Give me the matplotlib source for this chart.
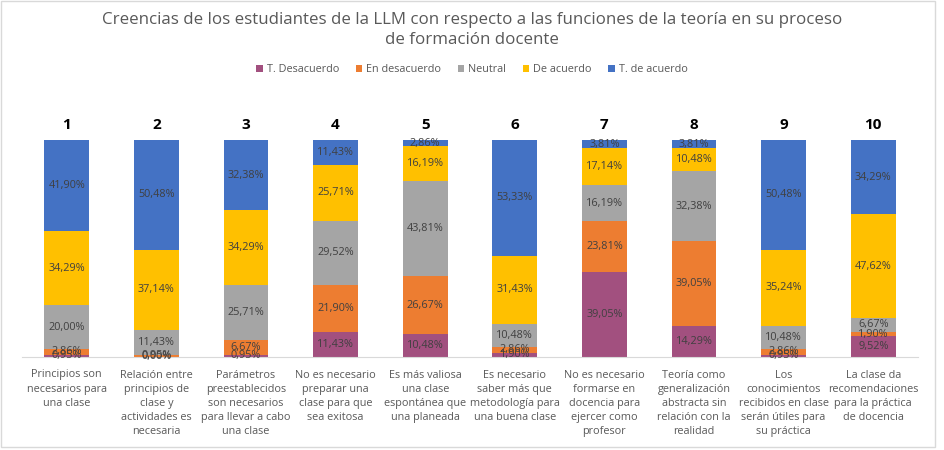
import matplotlib
matplotlib.use("Agg")
import matplotlib.pyplot as plt
from matplotlib.patches import Rectangle

plt.rcParams['font.family'] = ['Open Sans', 'DejaVu Sans']

# data (percent of students)
numbers = ['1', '2', '3', '4', '5', '6', '7', '8', '9', '10']
statements = [
    "Principios son\nnecesarios para\nuna clase",
    "Relación entre\nprincipios de\nclase y\nactividades es\nnecesaria",
    "Parámetros\npreestablecidos\nson necesarios\npara llevar a cabo\nuna clase",
    "No es necesario\npreparar una\nclase para que\nsea exitosa",
    "Es más valiosa\nuna clase\nespontánea que\nuna planeada",
    "Es necesario\nsaber más que\nmetodología para\nuna buena clase",
    "No es necesario\nformarse en\ndocencia para\nejercer como\nprofesor",
    "Teoría como\ngeneralización\nabstracta sin\nrelación con la\nrealidad",
    "Los\nconocimientos\nrecibidos en clase\nserán útiles para\nsu práctica",
    "La clase da\nrecomendaciones\npara la práctica\nde docencia",
]
series_names = ['T. Desacuerdo', 'En desacuerdo', 'Neutral', 'De acuerdo', 'T. de acuerdo']
t_desacuerdo = [0.95, 0.00, 0.95, 11.43, 10.48, 1.90, 39.05, 14.29, 0.95, 9.52]
en_desacuerdo = [2.86, 0.95, 6.67, 21.90, 26.67, 2.86, 23.81, 39.05, 2.86, 1.90]
neutral = [20.00, 11.43, 25.71, 29.52, 43.81, 10.48, 16.19, 32.38, 10.48, 6.67]
de_acuerdo = [34.29, 37.14, 34.29, 25.71, 16.19, 31.43, 17.14, 10.48, 35.24, 47.62]
t_de_acuerdo = [41.90, 50.48, 32.38, 11.43, 2.86, 53.33, 3.81, 3.81, 50.48, 34.29]

colors = ['#A2507F', '#ED7D31', '#A5A5A5', '#FFC000', '#4472C4']

fig = plt.figure(figsize=(9.44, 4.5), dpi=100)
ax = fig.add_axes([22 / 944, 93 / 450, 896 / 944, 217 / 450])

x = range(len(numbers))
bottom = [0.0] * len(numbers)
all_series = [t_desacuerdo, en_desacuerdo, neutral, de_acuerdo, t_de_acuerdo]
for name, vals, col in zip(series_names, all_series, colors):
    bars = ax.bar(x, vals, 0.5, bottom=bottom, color=col, label=name)
    ax.bar_label(bars, labels=[f"{v:.2f}%".replace('.', ',') for v in vals],
                 label_type='center', fontsize=7.8, color='#404040')
    bottom = [b + v for b, v in zip(bottom, vals)]

for i, n in enumerate(numbers):
    ax.annotate(n, (i, 100), xytext=(0, 6), textcoords='offset points',
                ha='center', va='bottom', fontsize=11, fontweight='bold',
                color='black')

ax.set_xlim(-0.5, len(numbers) - 0.5)
ax.set_ylim(0, 100)
ax.set_yticks([])
ax.set_xticks(list(x))
ax.set_xticklabels(statements, fontsize=7.8, color='#595959', linespacing=1.4)
ax.tick_params(axis='x', length=0, pad=9)
for s in ['top', 'right', 'left']:
    ax.spines[s].set_visible(False)
ax.spines['bottom'].set_color('#D9D9D9')

fig.text(0.5, 0.974, "Creencias de los estudiantes de la LLM con respecto a las funciones de la teoría en su proceso\nde formación docente",
         ha='center', va='top', fontsize=12.2, color='#595959', linespacing=1.4)

fig.legend(loc='center', bbox_to_anchor=(0.5, 1 - 70 / 450), ncol=5,
           frameon=False, fontsize=7.8, handlelength=0.6, handleheight=0.6,
           columnspacing=1.5, handletextpad=0.4, labelcolor='#595959')

fig.patches.append(Rectangle((0.5 / 944, 3 / 450), 934 / 944, 446 / 450,
                             transform=fig.transFigure, fill=False,
                             edgecolor='#D9D9D9', linewidth=1))

fig.savefig('out.png', dpi=100)
